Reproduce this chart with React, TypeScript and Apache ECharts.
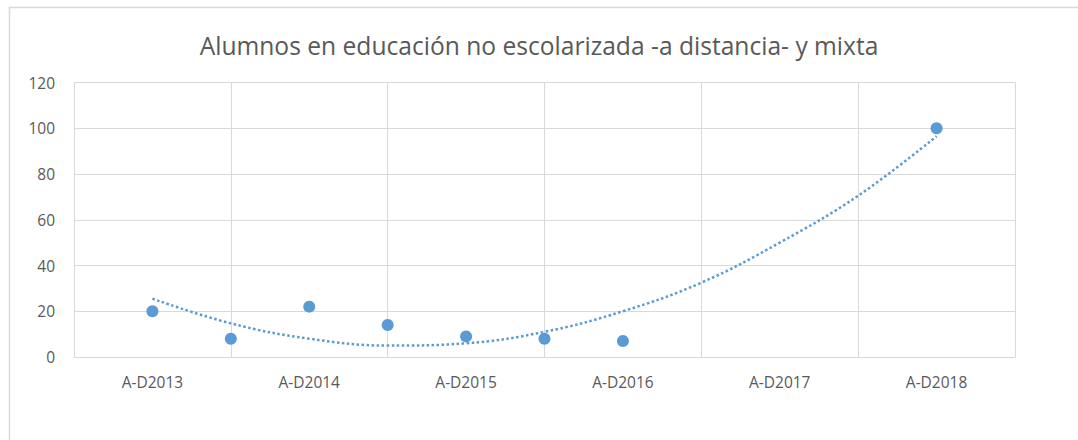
import React, { useEffect, useRef } from "react";
import * as echarts from "echarts";

const titleText = "Alumnos en educación no escolarizada -a distancia- y mixta";
const categories = ["", "A-D2013", "", "A-D2014", "", "A-D2015", "", "A-D2016", "", "A-D2017", "", "A-D2018", ""];
const alumnos: (number | null)[] = [null, 20, 8, 22, 14, 9, 8, 7, null, null, null, 100, null];
const tendencia: (number | null)[] = [null, 25.5, 14.7, 8, 5, 6, 11, 20, 32.5, 50, 70.5, 96.5, null];
const yTicks = { min: 0, max: 120, interval: 20 };

export default function App() {
  const ref = useRef<HTMLDivElement>(null);
  useEffect(() => {
    if (!ref.current) return;
    const chart = echarts.init(ref.current, undefined, { renderer: "svg" });
    const font = "'Open Sans', 'Noto Sans', sans-serif";
    chart.setOption({
      animation: false,
      backgroundColor: "#ffffff",
      title: {
        text: titleText,
        left: "center",
        top: 28,
        textStyle: { fontFamily: font, fontSize: 24.6, fontWeight: "normal", color: "#595959" },
      },
      graphic: [
        {
          type: "rect",
          shape: { x: 9.5, y: 7.5, width: 1100, height: 500 },
          style: { fill: "none", stroke: "#D9D9D9", lineWidth: 1.5 },
          silent: true,
        },
      ],
      grid: { left: 74, right: 63, top: 82.5, bottom: 83, containLabel: false },
      xAxis: {
        type: "category",
        data: categories,
        boundaryGap: false,
        axisLine: { show: true, lineStyle: { color: "#D9D9D9", width: 1 } },
        axisTick: { show: false },
        axisLabel: {
          interval: (i: number) => i % 2 === 1,
          color: "#595959",
          fontFamily: font,
          fontSize: 15.5,
          margin: 17,
        },
        splitLine: {
          show: true,
          interval: (i: number) => i % 2 === 0,
          lineStyle: { color: "#D9D9D9", width: 1 },
        },
      },
      yAxis: {
        type: "value",
        min: yTicks.min,
        max: yTicks.max,
        interval: yTicks.interval,
        axisLine: { show: false },
        axisTick: { show: false },
        axisLabel: { color: "#595959", fontFamily: font, fontSize: 15.5, margin: 19 },
        splitLine: { show: true, lineStyle: { color: "#D9D9D9", width: 1 } },
      },
      series: [
        {
          type: "line",
          data: tendencia,
          smooth: 0.4,
          symbol: "none",
          connectNulls: false,
          lineStyle: { color: "#5B9BD5", width: 2.5, type: [2.5, 2.5] },
          z: 2,
        },
        {
          type: "scatter",
          data: alumnos,
          symbol: "circle",
          symbolSize: 12,
          itemStyle: { color: "#5B9BD5", opacity: 1 },
          z: 3,
        },
      ],
    });
    return () => chart.dispose();
  }, []);
  return (
    <div
      ref={ref}
      style={{ position: "fixed", left: 0, top: 0, width: 1078, height: 440 }}
    />
  );
}
